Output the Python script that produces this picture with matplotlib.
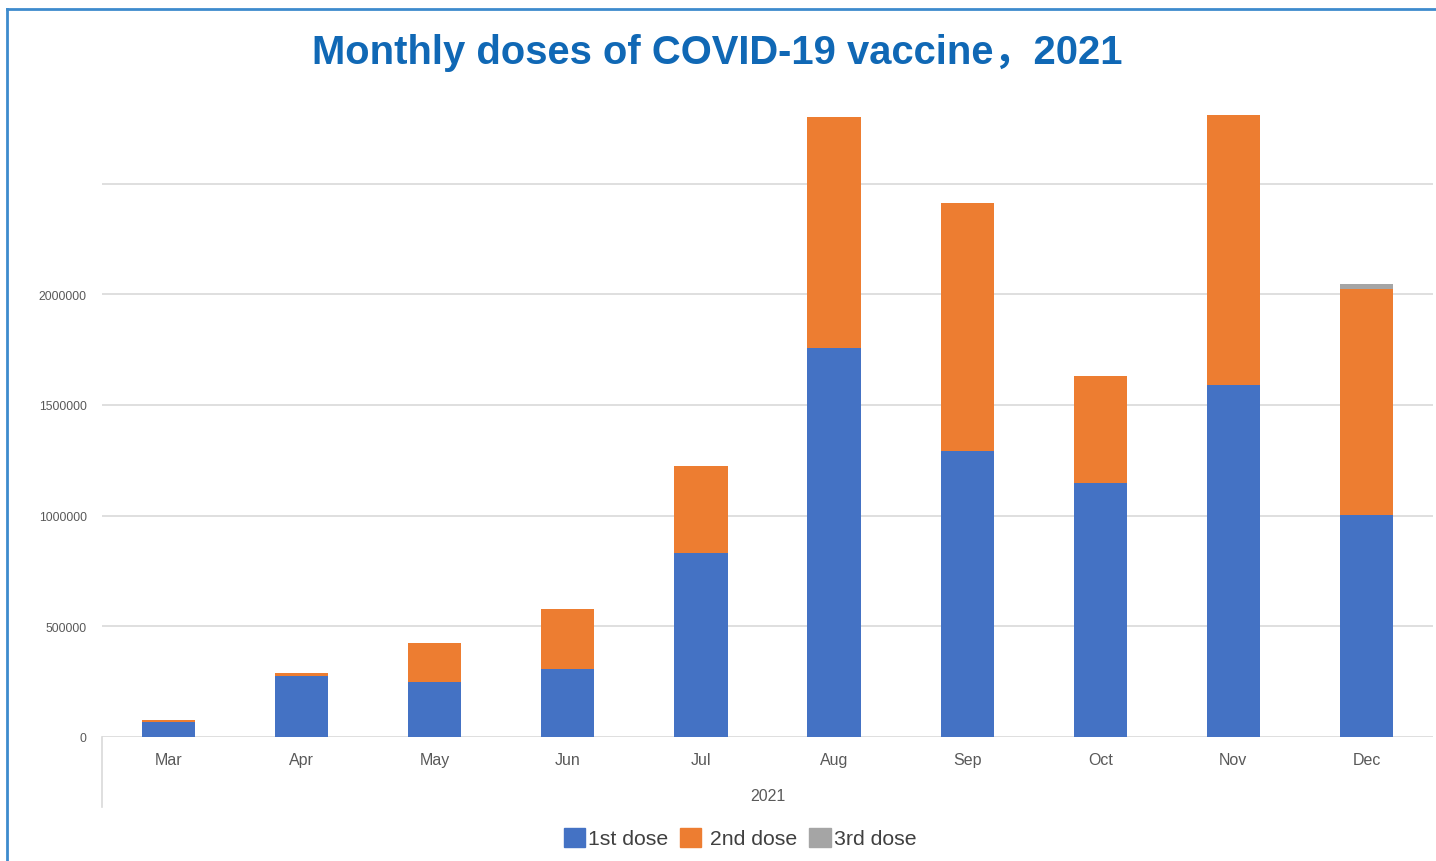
import numpy as np
import matplotlib
matplotlib.use("Agg")
import matplotlib.pyplot as plt
from matplotlib.lines import Line2D
from matplotlib.patches import Patch

months = ["Mar", "Apr", "May", "Jun", "Jul", "Aug", "Sep", "Oct", "Nov", "Dec"]
first_dose = [68000, 277000, 250000, 308000, 833000, 1757000, 1293000, 1149000, 1590000, 1004000]
second_dose = [9000, 14000, 175000, 271000, 389000, 1043000, 1120000, 484000, 1220000, 1018000]
third_dose = [0, 0, 0, 0, 0, 0, 0, 0, 0, 23000]
yticks = [0, 500000, 1000000, 1500000, 2000000]
grid_vals = [0, 500000, 1000000, 1500000, 2000000, 2500000]

BLUE, ORANGE, GRAY = "#4472C4", "#ED7D31", "#A5A5A5"
W, H = 1436, 862
fig = plt.figure(figsize=(W / 100, H / 100), dpi=100)
ax = fig.add_axes([102 / W, 124 / H, 1331 / W, 632 / H])

x = np.arange(len(months))
f = np.array(first_dose); s = np.array(second_dose); t = np.array(third_dose)
ax.bar(x, f, width=0.4, color=BLUE, zorder=3)
ax.bar(x, s, width=0.4, bottom=f, color=ORANGE, zorder=3)
ax.bar(x, t, width=0.4, bottom=f + s, color=GRAY, zorder=3)

ax.set_xlim(-0.5, len(months) - 0.5)
ax.set_ylim(0, 2855000)
for g in grid_vals:
    ax.axhline(g, color="#D9D9D9", lw=1.2, zorder=1)
for sp in ax.spines.values():
    sp.set_visible(False)
ax.set_yticks(yticks)
ax.set_yticklabels([str(v) for v in yticks], fontsize=8.8, color="#595959", family="Liberation Sans")
ax.set_xticks(x)
ax.set_xticklabels(months, fontsize=11.5, color="#595959", family="Liberation Sans")
ax.tick_params(length=0, axis="y", pad=11)
ax.tick_params(length=0, axis="x", pad=11)
# multi-level category axis: left divider and group label
ax.plot([0, 0], [0, -70 / 632], transform=ax.transAxes, color="#D9D9D9", lw=1.2, clip_on=False)
ax.text(0.5, -59 / 632, "2021", transform=ax.transAxes, ha="center", va="center",
        fontsize=11.5, color="#595959", family="Liberation Sans")

fig.text(717 / W, 1 - 53 / H, "Monthly doses of COVID-19 vaccine，2021", ha="center", va="center",
         fontsize=28.8, fontweight="bold", color="#1068B5", family=["Liberation Sans", "Noto Sans CJK SC"])

handles = [Patch(color=BLUE), Patch(color=ORANGE), Patch(color=GRAY)]
fig.legend(handles, ["1st dose", " 2nd dose", "3rd dose"], loc="center", bbox_to_anchor=(740 / W, 1 - 839 / H),
           ncol=3, frameon=False, handlelength=1.0, handleheight=1.0, handletextpad=0.15, columnspacing=0.55,
           prop={"family": "Liberation Sans", "size": 15.3}, labelcolor="#404040")

# blue frame of the original chart box
fig.add_artist(Line2D([7 / W, 7 / W], [0, 1 - 10 / H], color="#3D8BCD", lw=2))
fig.add_artist(Line2D([7 / W, 1], [1 - 10 / H, 1 - 10 / H], color="#3D8BCD", lw=2))

fig.savefig("out.png", dpi=100)
